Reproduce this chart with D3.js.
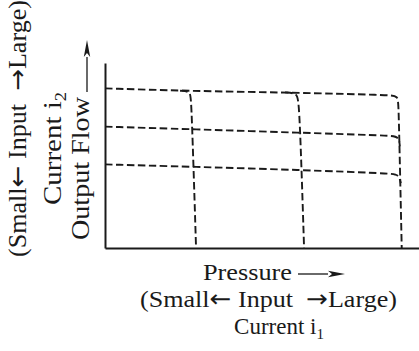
<!DOCTYPE html>
<html>
<head>
<meta charset="utf-8">
<script src="https://cdn.jsdelivr.net/npm/d3@7"></script>
<style>
  html, body { margin: 0; padding: 0; background: #fff; }
  svg { display: block; }
  text { font-family: "Liberation Serif", "Times New Roman", serif; fill: #1a1a1a; white-space: pre; }
  .arr { font-family: "DejaVu Sans", sans-serif; }
</style>
</head>
<body>
<svg id="chart" width="419" height="351"></svg>
<script>
// ---- data (pressure 0-100, output flow 0-100) ----
// constant input current i2 curves (flow vs pressure)
const i2Large  = [[0,86.3],[26,84.9],[60,84.0],[90.4,82.7],[93.3,82.2],[93.5,77.5],[94.5,0]];
const i2Medium = [[0,65.6],[28,64.2],[62.1,62.3],[90.8,60.8],[93.6,60.2],[93.9,55.0]];
const i2Small  = [[0,45.2],[28,43.9],[62.1,42.2],[90.8,40.3],[93.6,39.7],[94.2,35.0]];
// constant input current i1 curves (pressure limit)
const i1Small  = [[23.9,85.0],[27.1,84.7],[27.5,81.1],[29.0,0]];
const i1Medium = [[57.3,84.1],[61.1,83.7],[61.9,79.5],[63.4,0]];
const curves = [i2Large, i2Medium, i2Small, i1Small, i1Medium];

const xLabelLines = ["Pressure", "(Small\u2190 Input  \u2192Large)", "Current i"];
const xSub = "1";
const yLabelLines = ["(Small\u2190 Input  \u2192Large)", "Current i", "Output Flow"];
const ySub = "2";

// ---- drawing ----
const svg = d3.select("#chart");
const ink = "#1a1a1a";
const x = d3.scaleLinear().domain([0, 100]).range([105, 419]);
const y = d3.scaleLinear().domain([0, 100]).range([248, 63]);

svg.append("g").attr("transform", `translate(0,${y(0)})`)
  .call(d3.axisBottom(x).ticks(0).tickSizeOuter(0))
  .call(g => g.select(".domain").attr("stroke", ink).attr("stroke-width", 2));
svg.append("g").attr("transform", `translate(${x(0)},0)`)
  .call(d3.axisLeft(y).ticks(0).tickSizeOuter(0))
  .call(g => g.select(".domain").attr("stroke", ink).attr("stroke-width", 2));

const line = d3.line().x(d => x(d[0])).y(d => y(d[1])).curve(d3.curveBasis);
svg.append("g").selectAll("path").data(curves).join("path")
  .attr("d", line)
  .attr("fill", "none")
  .attr("stroke", ink)
  .attr("stroke-width", 1.9)
  .attr("stroke-dasharray", "7.5,3.5");

// text helper: arrows in a font with long arrow glyphs
function fillText(t, str) {
  str.split(/([\u2190\u2192])/).filter(s => s.length).forEach(s => {
    const sp = t.append("tspan").text(s);
    if (/[\u2190\u2192]/.test(s)) sp.attr("class", "arr");
  });
  return t;
}
function fit(t, len) {
  return t.attr("textLength", len).attr("lengthAdjust", "spacingAndGlyphs");
}

// x label
const xl = svg.append("g").attr("font-size", 24).attr("text-anchor", "middle");
fit(xl.append("text").attr("x", 247.5).attr("y", 280).text(xLabelLines[0]), 89);
fit(fillText(xl.append("text").attr("x", 268.5).attr("y", 307), xLabelLines[1]), 257);
const xc = xl.append("text").attr("x", 279).attr("y", 334).attr("font-size", 23);
xc.append("tspan").text(xLabelLines[2]);
xc.append("tspan").attr("font-size", 15).attr("dy", 5).text(xSub);

// arrow helper
function arrow(x1, y1, x2, y2) {
  const ang = Math.atan2(y2 - y1, x2 - x1);
  const len = 17, hw = 3.2;
  const bx = x2 - len * Math.cos(ang), by = y2 - len * Math.sin(ang);
  svg.append("line").attr("x1", x1).attr("y1", y1).attr("x2", bx).attr("y2", by)
    .attr("stroke", ink).attr("stroke-width", 1.3);
  const px = -Math.sin(ang) * hw, py = Math.cos(ang) * hw;
  const mx = x2 - (len - 4) * Math.cos(ang), my = y2 - (len - 4) * Math.sin(ang);
  svg.append("path")
    .attr("d", `M${x2},${y2}L${bx + px},${by + py}L${mx},${my}L${bx - px},${by - py}Z`)
    .attr("fill", ink);
}
arrow(298, 274, 345, 274);
arrow(87, 92, 87, 40);

// y label (rotated)
const yl = svg.append("g").attr("font-size", 25).attr("text-anchor", "middle");
fit(fillText(yl.append("text").attr("transform", "translate(26,128.5) rotate(-90)"), yLabelLines[0]), 257);
const yc = yl.append("text").attr("transform", "translate(61,148.5) rotate(-90)");
yc.append("tspan").text(yLabelLines[1]);
yc.append("tspan").attr("font-size", 16).attr("dy", 5).text(ySub);
fit(yc, 113);
fit(yl.append("text").attr("transform", "translate(89,168.5) rotate(-90)").text(yLabelLines[2]), 143);
</script>
</body>
</html>
